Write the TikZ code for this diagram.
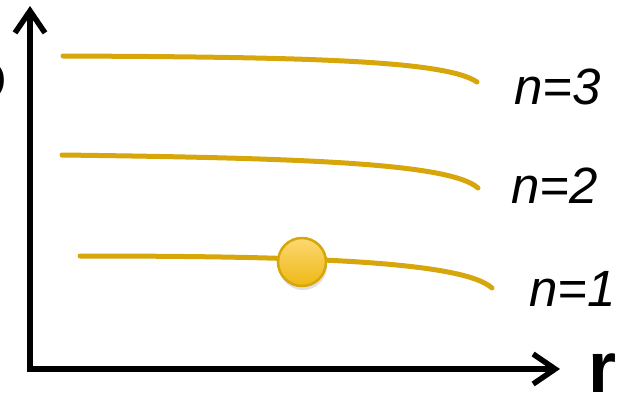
\documentclass[tikz,border=0pt]{standalone}
\usepackage{fontspec}
\setmainfont{Liberation Sans}
\usetikzlibrary{arrows.meta,shadows}
\definecolor{gold}{RGB}{214,166,10}
\definecolor{ballTop}{RGB}{252,216,115}
\definecolor{ballBot}{RGB}{238,184,20}
\tikzset{
  axis/.style={line width=5.5pt,-{Straight Barb[length=22pt,width=30pt,line width=5.5pt]}},
  level/.style={gold,line width=5pt,line cap=round},
  lbl/.style={font=\fontsize{51}{54}\selectfont\itshape,inner sep=0pt,anchor=west},
}
\begin{document}
\begin{tikzpicture}[x=1pt,y=-1pt]
\useasboundingbox (0,0) rectangle (626,397);
\coordinate (O) at (30,369);
\coordinate (ytip) at (30,6);
\coordinate (xtip) at (560,369);
\draw[axis] (O) -- (ytip);
\draw[axis] (O) -- (xtip);
\draw[line width=5.5pt] (30,372) -- (O);
\node[font=\fontsize{60}{60}\selectfont\bfseries,inner sep=0pt,anchor=east] (cut) at (7,81) {D};
\coordinate (a3) at (63,56); \coordinate (b3) at (477,82);
\coordinate (a2) at (62,155); \coordinate (b2) at (478,188);
\coordinate (a1) at (80,256); \coordinate (b1) at (492,288);
\draw[level] (a3) .. controls (300,57) and (445,60) .. (b3);
\draw[level] (a2) .. controls (300,158) and (450,163) .. (b2);
\draw[level] (a1) .. controls (300,256) and (462,261) .. (b1);
\node[circle,minimum size=48pt,inner sep=0pt,draw=gold,line width=2.5pt,top color=ballTop,bottom color=ballBot,drop shadow={shadow xshift=1pt,shadow yshift=-4pt,opacity=0.25}] (ball) at (302,262) {};
\node[lbl] (n3) at (514,87) {n=3};
\node[lbl] (n2) at (511,186) {n=2};
\node[lbl] (n1) at (529,289) {n=1};
\node[font=\fontsize{72}{72}\selectfont\bfseries,inner sep=0pt,anchor=base west] (r) at (588,392) {r};
\end{tikzpicture}
\end{document}
